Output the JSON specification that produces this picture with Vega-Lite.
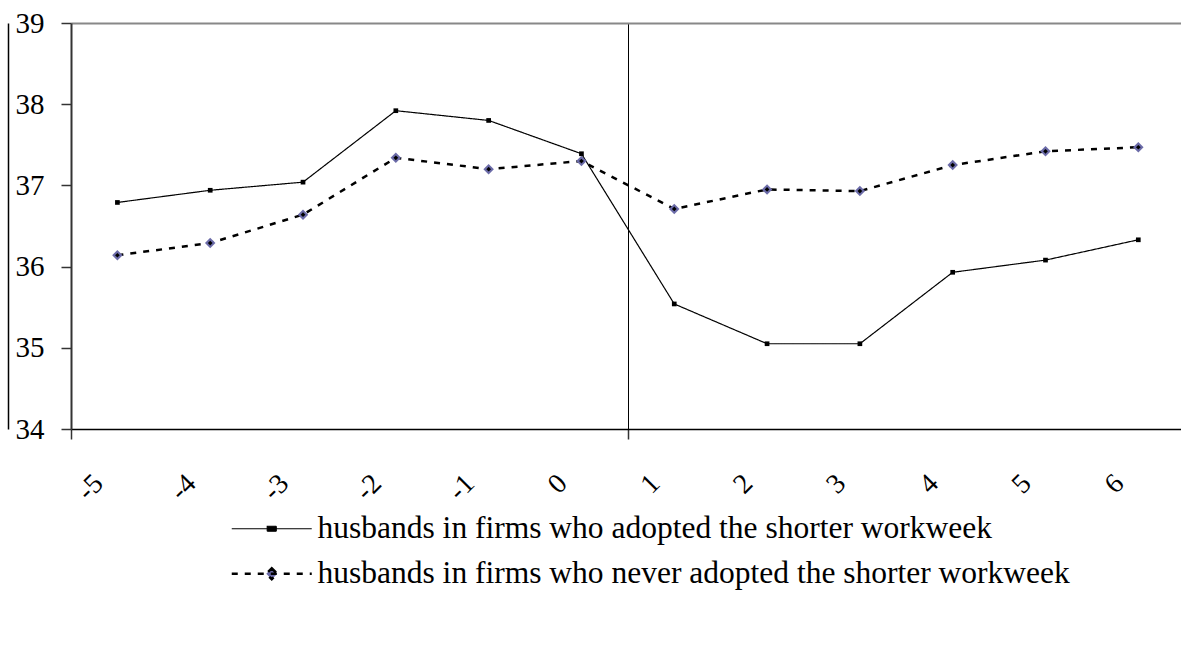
{
  "$schema": "https://vega.github.io/schema/vega-lite/v6.json",
  "width": 1110,
  "height": 406,
  "autosize": {"type": "none"},
  "padding": {"left": 71, "top": 23, "right": 0, "bottom": 226},
  "background": "white",
  "config": {
    "view": {"stroke": null},
    "font": "Liberation Serif"
  },
  "data": {
    "values": [
      {"t": -5, "v": 36.79, "s": "husbands in firms who adopted the shorter workweek"},
      {"t": -4, "v": 36.94, "s": "husbands in firms who adopted the shorter workweek"},
      {"t": -3, "v": 37.04, "s": "husbands in firms who adopted the shorter workweek"},
      {"t": -2, "v": 37.92, "s": "husbands in firms who adopted the shorter workweek"},
      {"t": -1, "v": 37.80, "s": "husbands in firms who adopted the shorter workweek"},
      {"t": 0, "v": 37.39, "s": "husbands in firms who adopted the shorter workweek"},
      {"t": 1, "v": 35.54, "s": "husbands in firms who adopted the shorter workweek"},
      {"t": 2, "v": 35.05, "s": "husbands in firms who adopted the shorter workweek"},
      {"t": 3, "v": 35.05, "s": "husbands in firms who adopted the shorter workweek"},
      {"t": 4, "v": 35.93, "s": "husbands in firms who adopted the shorter workweek"},
      {"t": 5, "v": 36.08, "s": "husbands in firms who adopted the shorter workweek"},
      {"t": 6, "v": 36.33, "s": "husbands in firms who adopted the shorter workweek"},
      {"t": -5, "v": 36.14, "s": "husbands in firms who never adopted the shorter workweek"},
      {"t": -4, "v": 36.29, "s": "husbands in firms who never adopted the shorter workweek"},
      {"t": -3, "v": 36.64, "s": "husbands in firms who never adopted the shorter workweek"},
      {"t": -2, "v": 37.34, "s": "husbands in firms who never adopted the shorter workweek"},
      {"t": -1, "v": 37.20, "s": "husbands in firms who never adopted the shorter workweek"},
      {"t": 0, "v": 37.30, "s": "husbands in firms who never adopted the shorter workweek"},
      {"t": 1, "v": 36.71, "s": "husbands in firms who never adopted the shorter workweek"},
      {"t": 2, "v": 36.95, "s": "husbands in firms who never adopted the shorter workweek"},
      {"t": 3, "v": 36.93, "s": "husbands in firms who never adopted the shorter workweek"},
      {"t": 4, "v": 37.25, "s": "husbands in firms who never adopted the shorter workweek"},
      {"t": 5, "v": 37.42, "s": "husbands in firms who never adopted the shorter workweek"},
      {"t": 6, "v": 37.47, "s": "husbands in firms who never adopted the shorter workweek"}
    ]
  },
  "resolve": {"axis": {"y": "independent"}},
  "layer": [
    {
      "mark": {"type": "line", "color": "black"},
      "encoding": {
        "x": {
          "field": "t", "type": "quantitative",
          "scale": {"domain": [-5.5, 6.46], "nice": false, "zero": false},
          "axis": {
            "title": null,
            "values": [-5.5, -5, -4, -3, -2, -1, 0, 0.5, 1, 2, 3, 4, 5, 6],
            "labelExpr": "datum.value % 1 === 0 ? '' + datum.value : ''",
            "labelAngle": -45,
            "labelAlign": "right",
            "labelBaseline": "middle",
            "labelOffset": -19,
            "labelPadding": 40,
            "labelFontSize": 28,
            "labelColor": "black",
            "labelFont": "Liberation Serif",
            "labelOverlap": false,
            "labelFlush": false,
            "domainColor": "black",
            "domainWidth": 1.5,
            "tickSize": 10,
            "tickWidth": 1.5,
            "tickColor": {"condition": {"test": "datum.value === -5.5 || datum.value === 0.5", "value": "#333333"}, "value": "transparent"},
            "grid": true,
            "gridColor": {"condition": {"test": "datum.value === 0.5", "value": "black"}, "value": "transparent"},
            "gridWidth": 1
          }
        },
        "y": {
          "field": "v", "type": "quantitative",
          "scale": {"domain": [34, 39], "nice": false, "zero": false},
          "axis": {
            "title": null,
            "values": [34, 35, 36, 37, 38, 39],
            "labelFontSize": 29,
            "labelColor": "black",
            "labelFont": "Liberation Serif",
            "labelPadding": 17,
            "domainColor": "#333333",
            "domainWidth": 2,
            "tickSize": 10,
            "tickWidth": 1.5,
            "tickColor": "#333333",
            "grid": true,
            "gridColor": {"condition": {"test": "datum.value === 39", "value": "#888888"}, "value": "transparent"},
            "gridWidth": 2
          }
        },
        "strokeDash": {
          "field": "s", "type": "nominal",
          "scale": {
            "domain": ["husbands in firms who adopted the shorter workweek", "husbands in firms who never adopted the shorter workweek"],
            "range": [[1, 0], [6, 7]]
          },
          "legend": {
            "title": null,
            "orient": "none",
            "legendX": 185,
            "legendY": 490,
            "padding": 0,
            "symbolSize": 400,
            "symbolStrokeWidth": 1.2,
            "symbolStrokeColor": "black",
            "labelFontSize": 31.5,
            "labelFont": "Liberation Serif",
            "labelColor": "black",
            "labelLimit": 0,
            "labelOffset": 30,
            "rowPadding": 12,
            "encode": {
              "symbols": {
                "update": {
                  "shape": [
                    {"test": "datum.value === 'husbands in firms who adopted the shorter workweek'", "value": "M-4,0L4,0M-0.45,-0.25L0.45,-0.25L0.45,0.25L-0.45,0.25Z"},
                    {"value": "M-4,0L4,0M0,-0.55L0.55,0L0,0.55L-0.55,0Z"}
                  ],
                  "fill": [
                    {"test": "datum.value === 'husbands in firms who adopted the shorter workweek'", "value": "black"},
                    {"value": "#6b6ba8"}
                  ],
                  "stroke": {"value": "black"},
                  "strokeWidth": {"value": 1.1},
                  "opacity": {"value": 1},
                  "strokeOpacity": {"value": 1},
                  "strokeDash": [
                    {"test": "datum.value === 'husbands in firms who adopted the shorter workweek'", "value": [1, 0]},
                    {"value": [4, 4]}
                  ]
                }
              }
            }
          }
        },
        "strokeWidth": {
          "field": "s", "type": "nominal",
          "scale": {
            "domain": ["husbands in firms who adopted the shorter workweek", "husbands in firms who never adopted the shorter workweek"],
            "range": [1.2, 2.5]
          },
          "legend": null
        }
      }
    },
    {
      "transform": [{"filter": "datum.s === 'husbands in firms who adopted the shorter workweek'"}],
      "mark": {"type": "point", "shape": "square", "filled": true, "color": "black", "size": 22, "opacity": 1},
      "encoding": {
        "x": {"field": "t", "type": "quantitative"},
        "y": {"field": "v", "type": "quantitative", "axis": {"orient": "left", "offset": 63, "labels": false, "ticks": false, "grid": false, "domainColor": "black", "domainWidth": 1.5, "title": null}}
      }
    },
    {
      "transform": [{"filter": "datum.s === 'husbands in firms who never adopted the shorter workweek'"}],
      "mark": {"type": "point", "shape": "diamond", "filled": true, "color": "#6b6ba8", "size": 110, "opacity": 1},
      "encoding": {
        "x": {"field": "t", "type": "quantitative"},
        "y": {"field": "v", "type": "quantitative", "axis": null}
      }
    },
    {
      "transform": [{"filter": "datum.s === 'husbands in firms who never adopted the shorter workweek'"}],
      "mark": {"type": "point", "shape": "diamond", "filled": true, "color": "black", "size": 22, "opacity": 1},
      "encoding": {
        "x": {"field": "t", "type": "quantitative"},
        "y": {"field": "v", "type": "quantitative", "axis": null}
      }
    }
  ]
}
